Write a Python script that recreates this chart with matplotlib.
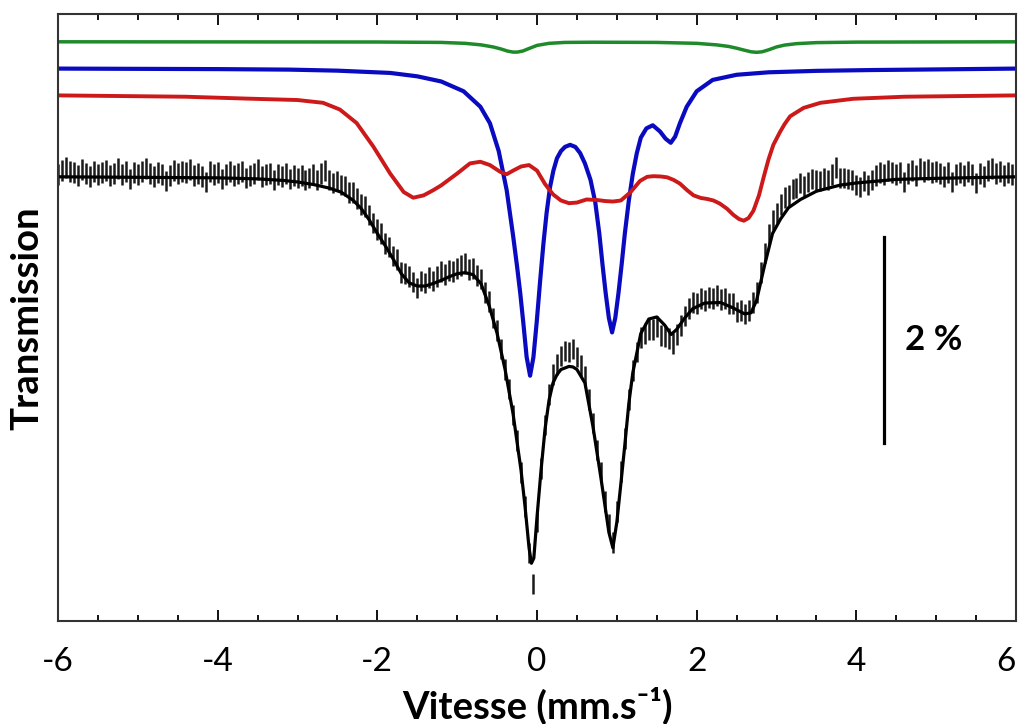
import numpy as np
import matplotlib
matplotlib.use("Agg")
import matplotlib.pyplot as plt

plt.rcParams['font.family'] = ['Lato', 'DejaVu Sans']
plt.rcParams['axes.unicode_minus'] = False

# measured spectrum, 241 channels from -6 to 6 mm/s, transmission in %
vel = np.linspace(-6, 6, 241)
trans = [
    100.02, 100.06, 100.09, 100.05, 100.04, 100.01, 100.07, 100.03, 100.00, 100.05,
    100.02, 100.04, 100.06, 100.01, 100.03, 100.08, 100.02, 100.05, 99.98, 100.04,
    100.02, 100.05, 100.08, 100.03, 100.00, 100.04, 100.02, 99.96, 100.01, 100.06,
    100.03, 100.05, 100.04, 100.07, 100.01, 100.03, 100.00, 99.95, 100.05, 100.02,
    100.04, 99.98, 100.02, 100.05, 100.01, 100.03, 100.05, 99.99, 100.01, 100.03,
    100.07, 100.00, 100.02, 100.03, 99.97, 100.02, 100.00, 100.03, 99.98, 100.01,
    99.99, 100.01, 99.97, 99.99, 100.02, 99.97, 100.03, 100.06, 99.97, 99.94,
    99.96, 99.92, 99.91, 99.85, 99.85, 99.79, 99.73, 99.71, 99.63, 99.55,
    99.49, 99.45, 99.35, 99.32, 99.23, 99.20, 99.07, 99.06, 99.03, 98.98,
    98.92, 98.99, 98.97, 99.02, 98.99, 99.03, 99.08, 99.05, 99.09, 99.08,
    99.11, 99.14, 99.16, 99.10, 99.11, 99.04, 99.01, 98.88, 98.79, 98.63,
    98.51, 98.33, 98.13, 97.94, 97.69, 97.44, 97.13, 96.80, 96.35, 96.05,
    96.65, 97.17, 97.59, 97.89, 98.08, 98.18, 98.26, 98.31, 98.30, 98.33,
    98.25, 98.17, 98.06, 97.84, 97.61, 97.35, 97.13, 96.85, 96.63, 96.45,
    96.75, 97.14, 97.46, 97.84, 98.12, 98.30, 98.44, 98.48, 98.52, 98.52,
    98.55, 98.46, 98.45, 98.43, 98.38, 98.47, 98.56, 98.65, 98.72, 98.78,
    98.77, 98.82, 98.80, 98.83, 98.82, 98.85, 98.81, 98.82, 98.77, 98.77,
    98.69, 98.70, 98.67, 98.70, 98.78, 98.88, 99.07, 99.26, 99.44, 99.58,
    99.65, 99.73, 99.80, 99.82, 99.88, 99.89, 99.94, 99.91, 99.95, 99.98,
    99.97, 99.96, 99.99, 99.97, 100.02, 100.09, 99.99, 99.99, 99.98, 99.97,
    99.92, 99.90, 99.96, 99.92, 99.97, 100.01, 100.04, 100.02, 100.06, 100.04,
    100.02, 100.04, 99.95, 100.03, 100.06, 100.01, 100.08, 100.05, 100.07, 100.04,
    100.05, 100.03, 100.00, 100.04, 99.95, 100.02, 100.04, 100.01, 100.05, 100.02,
    99.94, 100.03, 100.00, 100.06, 100.08, 100.03, 100.05, 100.01, 100.04, 100.02,
    100.03,
]
err = 0.1

# total fit (absorption depth in %)
fit_v = [-6, -4, -3.5, -3.18, -3.0, -2.8, -2.6, -2.45, -2.3, -2.2, -2.1, -2.0, -1.9, -1.8,
         -1.7, -1.6, -1.5, -1.4, -1.3, -1.2, -1.1, -1.0, -0.9, -0.8, -0.7, -0.6, -0.5, -0.4,
         -0.3, -0.2, -0.15, -0.1, -0.07, -0.04, 0.0, 0.05, 0.1, 0.15, 0.2, 0.25, 0.3, 0.4,
         0.45, 0.5, 0.6, 0.7, 0.8, 0.9, 0.95, 1.0, 1.05, 1.1, 1.15, 1.2, 1.3, 1.4, 1.5, 1.6,
         1.68, 1.75, 1.85, 1.95, 2.1, 2.3, 2.45, 2.6, 2.68, 2.75, 2.85, 2.95, 3.05, 3.15,
         3.3, 3.5, 3.8, 4.0, 4.5, 5.0, 6.0]
fit_d = [0, 0.01, 0.02, 0.035, 0.05, 0.075, 0.11, 0.15, 0.23, 0.31, 0.42, 0.55, 0.67, 0.8,
         0.94, 1.03, 1.06, 1.06, 1.035, 1.005, 0.97, 0.94, 0.93, 0.95, 1.04, 1.25, 1.52, 1.87,
         2.3, 2.85, 3.2, 3.6, 3.75, 3.7, 3.3, 2.85, 2.45, 2.17, 2.0, 1.92, 1.87, 1.84,
         1.845, 1.87, 2.0, 2.42, 2.92, 3.45, 3.6, 3.35, 2.98, 2.6, 2.2, 1.9, 1.52, 1.38, 1.36, 1.44,
         1.53, 1.48, 1.37, 1.28, 1.225, 1.22, 1.27, 1.33, 1.32, 1.2, 0.86, 0.55, 0.41, 0.3,
         0.22, 0.14, 0.08, 0.06, 0.025, 0.015, 0]

# red component
red_v = [-6, -4.4, -3.6, -3.0, -2.68, -2.47, -2.26, -2.05, -1.84, -1.67, -1.55, -1.42, -1.3,
         -1.2, -1.0, -0.84, -0.71, -0.59, -0.46, -0.38, -0.3, -0.2, -0.1, 0.0, 0.1, 0.2, 0.3,
         0.4, 0.5, 0.62, 0.75, 0.85, 0.95, 1.05, 1.17, 1.29, 1.38, 1.46, 1.55, 1.63, 1.71,
         1.79, 1.88, 1.96, 2.05, 2.13, 2.21, 2.29, 2.38, 2.46, 2.53, 2.59, 2.65, 2.71, 2.78,
         2.84, 2.9, 2.96, 3.04, 3.1, 3.17, 3.34, 3.55, 3.96, 4.6, 6]
red_d = [0, 0.013, 0.032, 0.045, 0.072, 0.137, 0.268, 0.497, 0.758, 0.938, 0.993, 0.97, 0.92,
         0.873, 0.758, 0.66, 0.644, 0.676, 0.742, 0.765, 0.73, 0.69, 0.676, 0.73, 0.86, 0.96, 1.02,
         1.046, 1.04, 1.01, 1.015, 1.025, 1.03, 1.02, 0.94, 0.83, 0.79, 0.784, 0.787, 0.795, 0.82,
         0.856, 0.92, 0.97, 0.995, 1.005, 1.02, 1.05, 1.1, 1.16, 1.2, 1.216, 1.19, 1.12, 0.97,
         0.79, 0.62, 0.48, 0.36, 0.28, 0.203, 0.121, 0.072, 0.033, 0.013, 0]

# blue component
blue_v = [-6, -4, -3.1, -2.5, -1.84, -1.5, -1.2, -0.92, -0.71, -0.59, -0.48, -0.38, -0.3,
          -0.25, -0.21, -0.17, -0.13, -0.087, -0.045, -0.004, 0.04, 0.08, 0.12, 0.163, 0.205,
          0.25, 0.3, 0.35, 0.414, 0.48, 0.54, 0.6, 0.67, 0.73, 0.78, 0.82, 0.86, 0.9, 0.94,
          0.98, 1.02, 1.06, 1.1, 1.15, 1.2, 1.25, 1.3, 1.37, 1.45, 1.54, 1.61, 1.675, 1.73,
          1.79, 1.875, 2.0, 2.2, 2.5, 2.9, 3.5, 4.2, 5.0, 6.0]
blue_d = [0, 0.005, 0.01, 0.02, 0.042, 0.075, 0.125, 0.22, 0.37, 0.53, 0.8, 1.18, 1.62,
          1.92, 2.18, 2.48, 2.8, 2.98, 2.8, 2.46, 2.05, 1.7, 1.4, 1.15, 0.99,
          0.87, 0.8, 0.76, 0.74, 0.76, 0.82, 0.92, 1.08, 1.3, 1.6, 1.9, 2.18, 2.42, 2.56,
          2.42, 2.18, 1.9, 1.6, 1.28, 1.02, 0.82, 0.67, 0.58, 0.55, 0.61, 0.68, 0.72, 0.66,
          0.53, 0.37, 0.22, 0.11, 0.06, 0.036, 0.022, 0.014, 0.008, 0]

# green component
green_v = [-6, -2, -1.2, -0.9, -0.7, -0.55, -0.45, -0.37, -0.3, -0.25, -0.18, -0.1, 0.0,
           0.15, 0.35, 0.7, 1.5, 2.0, 2.25, 2.4, 2.5, 2.6, 2.68, 2.75, 2.82, 2.9, 3.0, 3.1,
           3.25, 3.5, 4.0, 6]
green_d = [0, 0.002, 0.006, 0.015, 0.03, 0.05, 0.07, 0.09, 0.1, 0.1, 0.09, 0.065, 0.035,
           0.015, 0.006, 0.004, 0.006, 0.015, 0.03, 0.045, 0.062, 0.082, 0.097, 0.102, 0.097,
           0.078, 0.05, 0.032, 0.018, 0.008, 0.003, 0]

fig = plt.figure(figsize=(10.23, 7.24), dpi=100)
ax = fig.add_axes([0.0567, 0.1423, 0.9365, 0.8384])

# components are shifted up so they sit above the spectrum
ax.plot(green_v, 101.31 - np.array(green_d), color='#1e8a2a', lw=2.5)
ax.plot(blue_v, 101.05 - np.array(blue_d), color='#0a0ac0', lw=3.0)
ax.plot(red_v, 100.79 - np.array(red_d), color='#cc1a1a', lw=2.8)

ax.errorbar(vel, trans, yerr=err, fmt='none', ecolor='#1a1a1a', elinewidth=1.8, capsize=0)
ax.plot(fit_v, 100 - np.array(fit_d), color='black', lw=2.3)

# 2 % scale bar
ax.plot([4.35, 4.35], [99.42, 97.42], color='black', lw=2.3)
ax.text(4.61, 98.42, '2 %', fontsize=25, fontweight='bold', ha='left', va='center')

ax.set_xlim(-6, 6)
ax.set_ylim(95.69, 101.58)
ax.set_xticks([-6, -4, -2, 0, 2, 4, 6])
ax.set_xticklabels(['-6', '-4', '-2', '0', '2', '4', '6'], fontsize=24)
ax.set_xticks(np.arange(-6, 6.01, 0.5), minor=True)
ax.set_yticks([])
ax.tick_params(axis='x', which='both', direction='in', top=True, pad=19)
ax.tick_params(axis='x', which='major', length=8, width=1.3)
ax.tick_params(axis='x', which='minor', length=4.5, width=1.3)
# keep the last label inside the figure
ax.get_xticklabels()[-1].set_horizontalalignment('right')
for s in ax.spines.values():
    s.set_linewidth(1.5)
    s.set_color('#333333')

fig.text(537 / 1023, 1 - 706 / 724, 'Vitesse (mm.s\u207b\u00b9)', fontsize=27.5,
         fontweight='bold', ha='center', va='center')
fig.text(27 / 1023, 1 - 318 / 724, 'Transmission', fontsize=27.5, fontweight='bold',
         rotation=90, ha='center', va='center')

fig.savefig('out.png', dpi=100)
